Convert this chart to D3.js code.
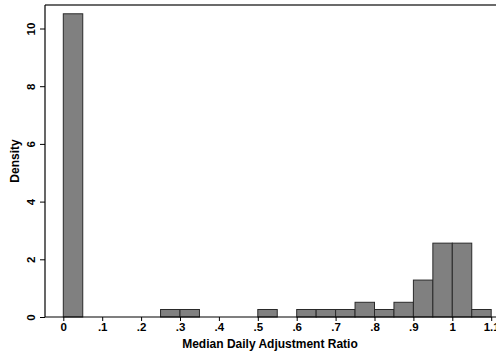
<!DOCTYPE html>
<html><head><meta charset="utf-8">
<script src="https://cdn.jsdelivr.net/npm/d3@7"></script>
<style>body{margin:0;background:#fff}svg{display:block}text{font-family:"Liberation Sans",Arial,sans-serif;font-weight:bold;fill:#000}</style>
</head><body>
<script>
// Histogram bins (width 0.05) and densities
const binStarts = [0, 0.25, 0.30, 0.50, 0.60, 0.65, 0.70, 0.75, 0.80, 0.85, 0.90, 0.95, 1.00, 1.05];
const densities = [10.51, 0.26, 0.26, 0.26, 0.26, 0.26, 0.26, 0.51, 0.26, 0.51, 1.28, 2.56, 2.56, 0.26];
const binWidth = 0.05;
const xTicks = [0, 0.1, 0.2, 0.3, 0.4, 0.5, 0.6, 0.7, 0.8, 0.9, 1.0, 1.1];
const xTickLabels = ["0", ".1", ".2", ".3", ".4", ".5", ".6", ".7", ".8", ".9", "1", "1.1"];
const yTicks = [0, 2, 4, 6, 8, 10];
const xTitle = "Median Daily Adjustment Ratio";
const yTitle = "Density";

const W = 496, H = 355;
const svg = d3.select("body").append("svg").attr("width", W).attr("height", H);

const pLeft = 45, pTop = 5, pBottom = 317, pRight = 496;
const x = d3.scaleLinear().domain([0, 1.1]).range([63.3, 491.2]);
const y = d3.scaleLinear().domain([0, 10]).range([pBottom, 28.5]);

// bars
svg.append("g").selectAll("rect").data(binStarts).join("rect")
  .attr("x", d => x(d))
  .attr("width", (d) => x(d + binWidth) - x(d))
  .attr("y", (d, i) => y(densities[i]))
  .attr("height", (d, i) => y(0) - y(densities[i]))
  .attr("fill", "#808080").attr("stroke", "#2a2a2a").attr("stroke-width", 1);

// frame top
svg.append("line").attr("x1", pLeft).attr("x2", pRight + 5).attr("y1", pTop).attr("y2", pTop)
  .attr("stroke", "#3a3a3a").attr("stroke-width", 1.3);

// x axis
const xAxis = d3.axisBottom(x).tickValues(xTicks).tickFormat((d, i) => xTickLabels[i]).tickSize(4).tickPadding(2);
const gx = svg.append("g").attr("transform", `translate(0,${pBottom})`).call(xAxis);
gx.select(".domain").remove();
gx.append("line").attr("x1", pLeft).attr("x2", pRight + 5).attr("stroke", "#000").attr("stroke-width", 1.2);
gx.selectAll(".tick line").attr("stroke", "#000");
gx.selectAll(".tick text").attr("font-size", 11.5).attr("font-weight", "bold").attr("fill", "#000")
  .attr("font-family", "Liberation Sans, Arial, sans-serif");

// y axis
const yAxis = d3.axisLeft(y).tickValues(yTicks).tickSize(5).tickPadding(3);
const gy = svg.append("g").attr("transform", `translate(${pLeft},0)`).call(yAxis);
gy.select(".domain").remove();
gy.append("line").attr("y1", pTop).attr("y2", pBottom).attr("stroke", "#000").attr("stroke-width", 1.2);
gy.selectAll(".tick line").attr("stroke", "#000");
gy.selectAll(".tick text")
  .attr("font-size", 11.5).attr("font-weight", "bold").attr("fill", "#000")
  .attr("font-family", "Liberation Sans, Arial, sans-serif")
  .attr("x", null).attr("dy", null)
  .attr("text-anchor", "middle")
  .attr("transform", "translate(-10,0) rotate(-90)");

// titles
svg.append("text").attr("x", 270).attr("y", 348).attr("text-anchor", "middle")
  .attr("font-size", 12).text(xTitle);
svg.append("text").attr("transform", "translate(19,161) rotate(-90)").attr("text-anchor", "middle")
  .attr("font-size", 12).text(yTitle);
</script>
</body></html>
